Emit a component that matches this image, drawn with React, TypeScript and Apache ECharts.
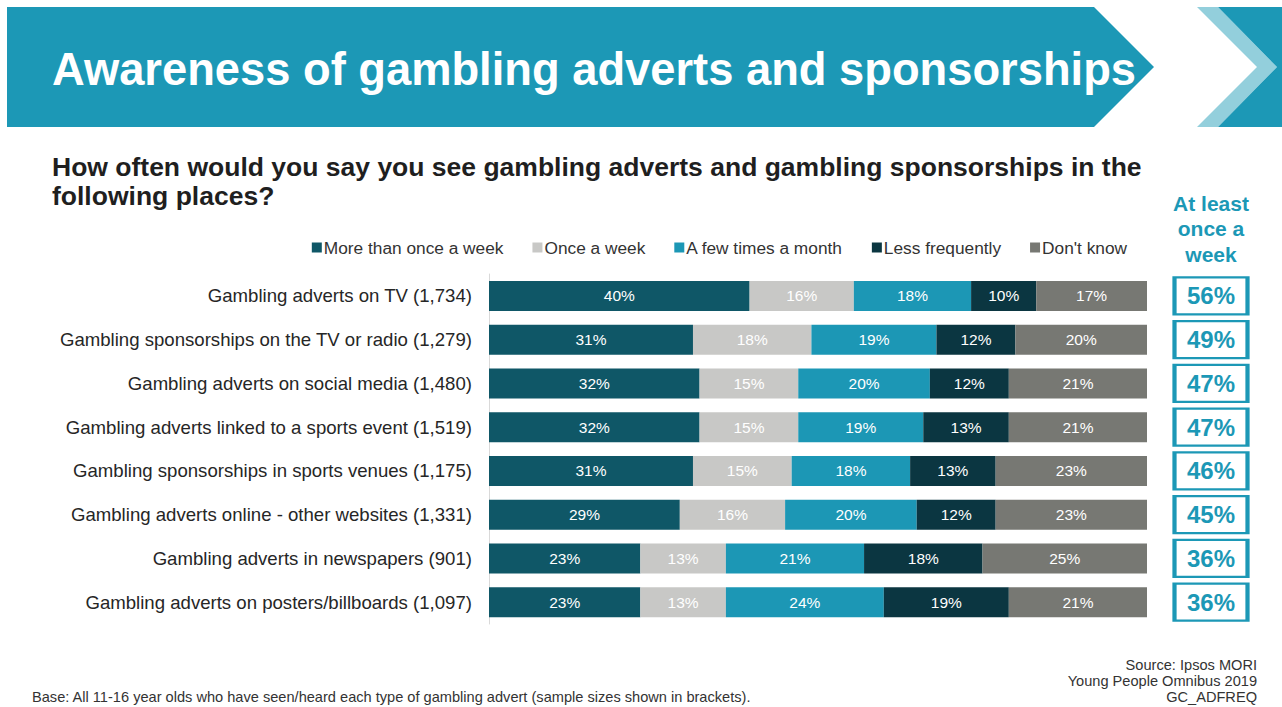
import React, { useEffect, useRef } from "react";
import * as echarts from "echarts";

const categories = [
  "Gambling adverts on TV (1,734)",
  "Gambling sponsorships on the TV or radio (1,279)",
  "Gambling adverts on social media (1,480)",
  "Gambling adverts linked to a sports event (1,519)",
  "Gambling sponsorships in sports venues (1,175)",
  "Gambling adverts online - other websites (1,331)",
  "Gambling adverts in newspapers (901)",
  "Gambling adverts on posters/billboards (1,097)",
];

const seriesNames = [
  "More than once a week",
  "Once a week",
  "A few times a month",
  "Less frequently",
  "Don't know",
];

const moreThanOnce = [40, 31, 32, 32, 31, 29, 23, 23];
const onceAWeek = [16, 18, 15, 15, 15, 16, 13, 13];
const fewTimesMonth = [18, 19, 20, 19, 18, 20, 21, 24];
const lessFrequently = [10, 12, 12, 13, 13, 12, 18, 19];
const dontKnow = [17, 20, 21, 21, 23, 23, 25, 21];
const atLeastWeekly = [56, 49, 47, 47, 46, 45, 36, 36];

const seriesColors = ["#0f5767", "#c8c8c6", "#1c97b5", "#0b3641", "#777873"];

const TEAL = "#1c98b6";
const FONT = "'Liberation Sans', Arial, Helvetica, sans-serif";

export default function App() {
  const ref = useRef<HTMLDivElement>(null);

  useEffect(() => {
    if (!ref.current) return;
    const chart = echarts.init(ref.current, undefined, { renderer: "svg" });
    const raw = [moreThanOnce, onceAWeek, fewTimesMonth, lessFrequently, dontKnow];
    const totals = categories.map((_, i) => raw.reduce((s, arr) => s + arr[i], 0));

    const barSeries = raw.map((arr, si) => ({
      type: "bar",
      name: seriesNames[si],
      stack: "total",
      barWidth: 30,
      xAxisIndex: 0,
      yAxisIndex: 0,
      itemStyle: { color: seriesColors[si] },
      emphasis: { disabled: true },
      label: {
        show: true,
        position: "inside",
        color: "#ffffff",
        fontSize: 15.5,
        fontFamily: FONT,
        formatter: (p: any) => `${arr[p.dataIndex]}%`,
      },
      data: arr.map((v, i) => (v / totals[i]) * 100),
    }));

    const option: any = {
      animation: false,
      textStyle: { fontFamily: FONT },
      legend: {
        data: seriesNames,
        right: 150,
        top: 234,
        icon: "rect",
        itemWidth: 10,
        itemHeight: 10,
        itemGap: 29,
        textStyle: { fontSize: 17.3, color: "#333333", fontFamily: FONT, padding: [0, 0, 0, -3] },
      },
      grid: [
        { left: 489, right: 135, top: 274, bottom: 83, containLabel: false },
        { left: 1173, width: 76, top: 274, bottom: 83, containLabel: false },
      ],
      xAxis: [
        { type: "value", gridIndex: 0, min: 0, max: 100, show: false },
        { type: "value", gridIndex: 1, min: 0, max: 1, show: false },
      ],
      yAxis: [
        {
          type: "category",
          gridIndex: 0,
          inverse: true,
          data: categories,
          axisTick: { show: false },
          axisLine: { show: true, lineStyle: { color: "#d9d9d9", width: 1 } },
          axisLabel: { fontSize: 18.6, color: "#262626", margin: 17, fontFamily: FONT },
        },
        {
          type: "category",
          gridIndex: 1,
          inverse: true,
          data: categories,
          show: false,
        },
      ],
      series: [
        ...barSeries,
        {
          type: "scatter",
          name: "At least once a week",
          xAxisIndex: 1,
          yAxisIndex: 1,
          symbol: "rect",
          symbolSize: [73, 37],
          clip: false,
          itemStyle: { color: "#ffffff", borderColor: TEAL, borderWidth: 3, opacity: 1 },
          emphasis: { disabled: true },
          label: {
            show: true,
            position: "inside",
            color: TEAL,
            fontSize: 24,
            fontWeight: "bold",
            fontFamily: FONT,
            formatter: (p: any) => `${atLeastWeekly[p.dataIndex]}%`,
          },
          data: atLeastWeekly.map((_, i) => [0.5, i]),
        },
      ],
      graphic: [
        {
          type: "polygon",
          shape: { points: [[7, 7], [1094, 7], [1154, 67], [1094, 127], [7, 127]] },
          style: { fill: TEAL },
        },
        {
          type: "polygon",
          shape: { points: [[1197, 7], [1218, 7], [1277, 67], [1218, 127], [1197, 127], [1257, 67]] },
          style: { fill: "#93cfdc" },
        },
        {
          type: "polygon",
          shape: { points: [[1218, 7], [1282, 7], [1282, 127], [1218, 127], [1277, 67]] },
          style: { fill: TEAL },
        },
        {
          type: "text",
          x: 52,
          y: 69,
          style: {
            text: "Awareness of gambling adverts and sponsorships",
            fill: "#ffffff",
            fontSize: 45.3,
            fontWeight: "bold",
            fontFamily: FONT,
            textVerticalAlign: "middle",
          },
        },
        {
          type: "text",
          x: 52,
          y: 167,
          style: {
            text: "How often would you say you see gambling adverts and gambling sponsorships in the",
            fill: "#1f1f1f",
            fontSize: 26.5,
            fontWeight: "bold",
            fontFamily: FONT,
            textVerticalAlign: "middle",
          },
        },
        {
          type: "text",
          x: 52,
          y: 196,
          style: {
            text: "following places?",
            fill: "#1f1f1f",
            fontSize: 26.5,
            fontWeight: "bold",
            fontFamily: FONT,
            textVerticalAlign: "middle",
          },
        },
        ...["At least", "once a", "week"].map((t, i) => ({
          type: "text",
          x: 1211,
          y: 203 + i * 25.5,
          style: {
            text: t,
            fill: TEAL,
            fontSize: 21,
            fontWeight: "bold",
            fontFamily: FONT,
            textAlign: "center",
            textVerticalAlign: "middle",
          },
        })),
        ...["Source: Ipsos MORI", "Young People Omnibus 2019", "GC_ADFREQ"].map((t, i) => ({
          type: "text",
          x: 1257,
          y: 665 + i * 16,
          style: {
            text: t,
            fill: "#333333",
            fontSize: 14.6,
            fontFamily: FONT,
            textAlign: "right",
            textVerticalAlign: "middle",
          },
        })),
        {
          type: "text",
          x: 32,
          y: 697,
          style: {
            text: "Base: All 11-16 year olds who have seen/heard each type of gambling advert (sample sizes shown in brackets).",
            fill: "#333333",
            fontSize: 14.6,
            fontFamily: FONT,
            textVerticalAlign: "middle",
          },
        },
      ],
    };

    chart.setOption(option);
    return () => chart.dispose();
  }, []);

  return (
    <div
      ref={ref}
      style={{ position: "absolute", left: 0, top: 0, width: 1282, height: 707, background: "#ffffff" }}
    />
  );
}
